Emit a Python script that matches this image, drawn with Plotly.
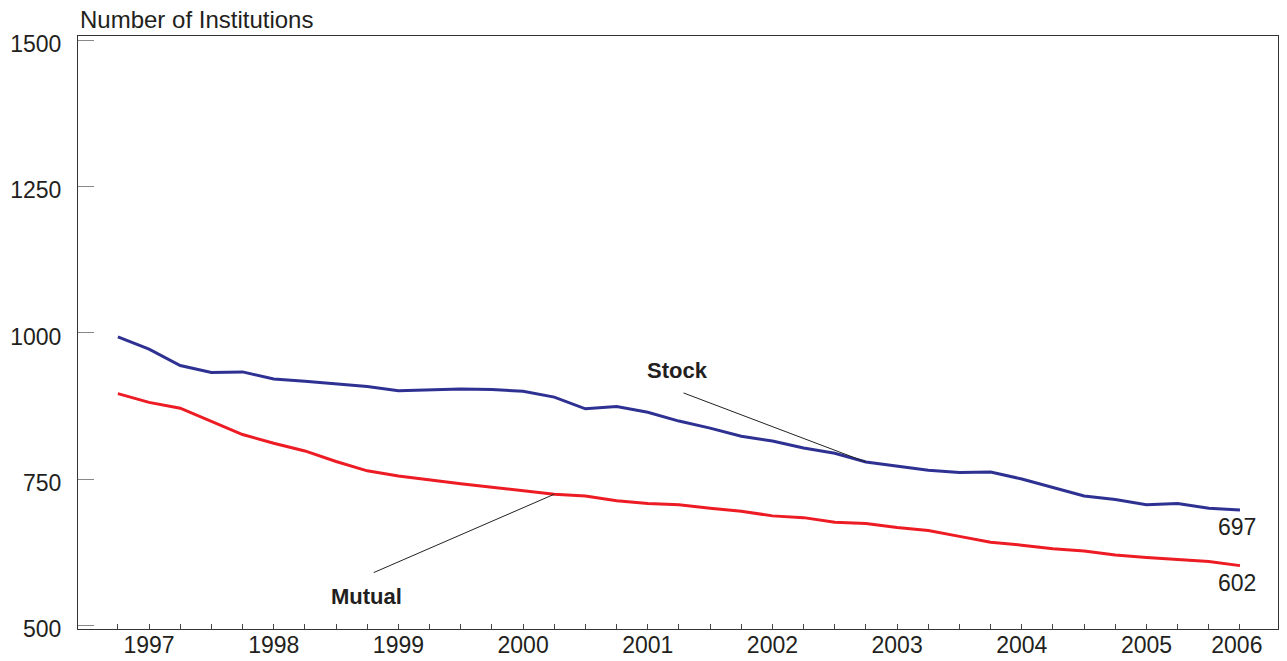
import plotly.graph_objects as go

quarters = list(range(37))  # 1997Q1 .. 2006Q1
stock = [993, 972, 944, 932, 933, 921, 917, 912, 908, 901, 903, 904, 903, 900, 890,
         870, 874, 864, 849, 837, 823, 815, 803, 794, 779, 772, 765, 761, 762, 750,
         736, 721, 715, 706, 708, 700, 697]
mutual = [896, 881, 871, 849, 826, 811, 798, 780, 764, 755, 748, 742, 736, 730, 724,
          721, 713, 708, 706, 700, 695, 687, 684, 676, 674, 667, 662, 652, 642, 637,
          631, 627, 620, 616, 612, 609, 602]
year_labels = ["1997", "1998", "1999", "2000", "2001", "2002", "2003", "2004", "2005", "2006"]
year_label_pos = [1, 5, 9, 13, 17, 21, 25, 29, 33, 35.9]
year_end_pos = [3, 7, 11, 15, 19, 23, 27, 31, 35]
y_ticks = [500, 750, 1000, 1250, 1500]

TXT = "#231f20"
FONT = "Liberation Sans, Arial, sans-serif"
BLUE = "#2e3192"
RED = "#ed1c24"

fig = go.Figure()
fig.add_trace(go.Scatter(x=quarters, y=stock, mode="lines", name="Stock",
                         line=dict(color=BLUE, width=3), showlegend=False))
fig.add_trace(go.Scatter(x=quarters, y=mutual, mode="lines", name="Mutual",
                         line=dict(color=RED, width=3), showlegend=False))
# dummy trace on overlay axis for year labels
fig.add_trace(go.Scatter(x=[None], y=[None], xaxis="x2", showlegend=False, hoverinfo="skip"))

xr = [-1.28, 37.22]
fig.update_layout(
    width=1287, height=661, autosize=False,
    margin=dict(l=78, r=9, t=36, b=32),
    paper_bgcolor="white", plot_bgcolor="white",
    font=dict(family=FONT, color=TXT, size=23),
    xaxis=dict(range=xr, tickvals=year_end_pos, ticktext=[""] * len(year_end_pos),
               ticks="inside", ticklen=10, tickcolor="#444", tickwidth=1,
               showgrid=False, zeroline=False, showline=True, linecolor="#333",
               linewidth=1, mirror=True, automargin=False,
               minor=dict(tickvals=quarters, ticks="inside", ticklen=5,
                          tickcolor="#444", tickwidth=1, showgrid=False)),
    xaxis2=dict(range=xr, overlaying="x", side="bottom", anchor="y",
                tickvals=year_label_pos, ticktext=year_labels, ticks="",
                showgrid=False, zeroline=False, showline=False, automargin=False,
                tickfont=dict(size=23, color=TXT)),
    yaxis=dict(range=[493.7, 1507], tickvals=y_ticks, ticks="inside", ticklen=16,
               tickcolor="#888", tickwidth=1, showgrid=False, zeroline=False,
               showline=True, linecolor="#333", linewidth=1, mirror=True,
               automargin=False, ticklabelshift=4,
               ticklabelstandoff=11, tickfont=dict(size=23, color=TXT)),
)

fig.add_annotation(text="Number of Institutions", xref="paper", yref="paper",
                   x=0, y=1, xanchor="left", yanchor="bottom", yshift=1,
                   showarrow=False, font=dict(size=24, color=TXT))

# Series labels
fig.add_annotation(text="<b>Stock</b>", x=17.95, y=936, showarrow=False,
                   font=dict(size=22, color=TXT))
fig.add_annotation(text="", x=quarters[24], y=stock[24], ax=18.1, ay=898,
                   axref="x", ayref="y", showarrow=True, arrowhead=0,
                   arrowwidth=1, arrowcolor="#222")
fig.add_annotation(text="<b>Mutual</b>", x=7.97, y=550, showarrow=False,
                   font=dict(size=22, color=TXT))
fig.add_annotation(text="", x=quarters[14], y=mutual[14], ax=8.16, ay=589,
                   axref="x", ayref="y", showarrow=True, arrowhead=0,
                   arrowwidth=1, arrowcolor="#222")

# End values
fig.add_annotation(text=str(stock[-1]), x=quarters[-1], y=stock[-1], yshift=-17,
                   xshift=-3, showarrow=False, font=dict(size=23, color=TXT))
fig.add_annotation(text=str(mutual[-1]), x=quarters[-1], y=mutual[-1], yshift=-17,
                   xshift=-3, showarrow=False, font=dict(size=23, color=TXT))

fig.write_html("out.html", config={"displayModeBar": False},
               post_script="document.body.style.margin='0';")
